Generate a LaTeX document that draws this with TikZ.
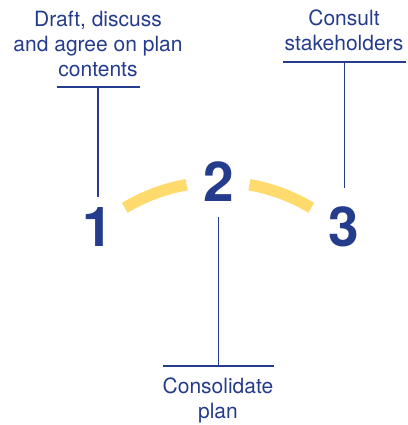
\documentclass[tikz,border=0pt]{standalone}
\usepackage{fontspec}
\setmainfont{TeX Gyre Heros}
\definecolor{planblue}{HTML}{253C8C}
\definecolor{planyellow}{HTML}{FFDB6E}
\tikzset{
	steplabel/.style = {font = \fontsize{21}{25}\selectfont, text = planblue, align = center, inner sep = 0pt},
	stepnum/.style = {font = \fontsize{55}{55}\selectfont\bfseries, text = planblue, inner sep = 0pt, anchor = south},
	leader/.style = {draw = planblue, line width = 1.3pt},
	underbar/.style = {draw = planblue, line width = 1.8pt},
	arcbar/.style = {draw = planyellow, line width = 11.5pt}
}
\begin{document}
\begin{tikzpicture}[x = 1pt, y = 1pt]
		\useasboundingbox (0, 0) rectangle (407, 425);
		% step numbers
		\foreach \n/\x/\y in {1/98/178, 2/219/223, 3/344/178}
			\node[stepnum] (n\n) at (\x, \y) {\n};
		% step texts
		\node[steplabel, anchor = north] (t1) at (98, 414) {Draft, discuss\\and agree on plan\\contents};
		\node[steplabel, anchor = north] (t3) at (344, 415) {Consult\\stakeholders};
		\node[steplabel, anchor = north] (t2) at (218, 47) {Consolidate\\plan};
		% underlines
		\coordinate (u1) at (98, 338);
		\coordinate (u3) at (344.5, 363);
		\coordinate (u2) at (218.5, 59);
		\draw[underbar] ([xshift = -41.5]u1) -- ([xshift = 41.5]u1);
		\draw[underbar] ([xshift = -61.5]u3) -- ([xshift = 61.5]u3);
		\draw[underbar] ([xshift = -55.5]u2) -- ([xshift = 55.5]u2);
		% leaders
		\draw[leader, shorten > = 11] (u1) -- (u1 |- n1.north);
		\draw[leader, shorten > = 18] (u3) -- (u3 |- n3.north);
		\draw[leader, shorten > = 15] (u2) -- (u2 |- n2.south);
		% yellow arc
		\coordinate (hub) at (218, 62);
		\draw[arcbar] (hub) ++(121:181) arc[start angle = 121, end angle = 100, radius = 181];
		\draw[arcbar] (hub) ++(80:181) arc[start angle = 80, end angle = 59, radius = 181];
	\end{tikzpicture}
\end{document}
